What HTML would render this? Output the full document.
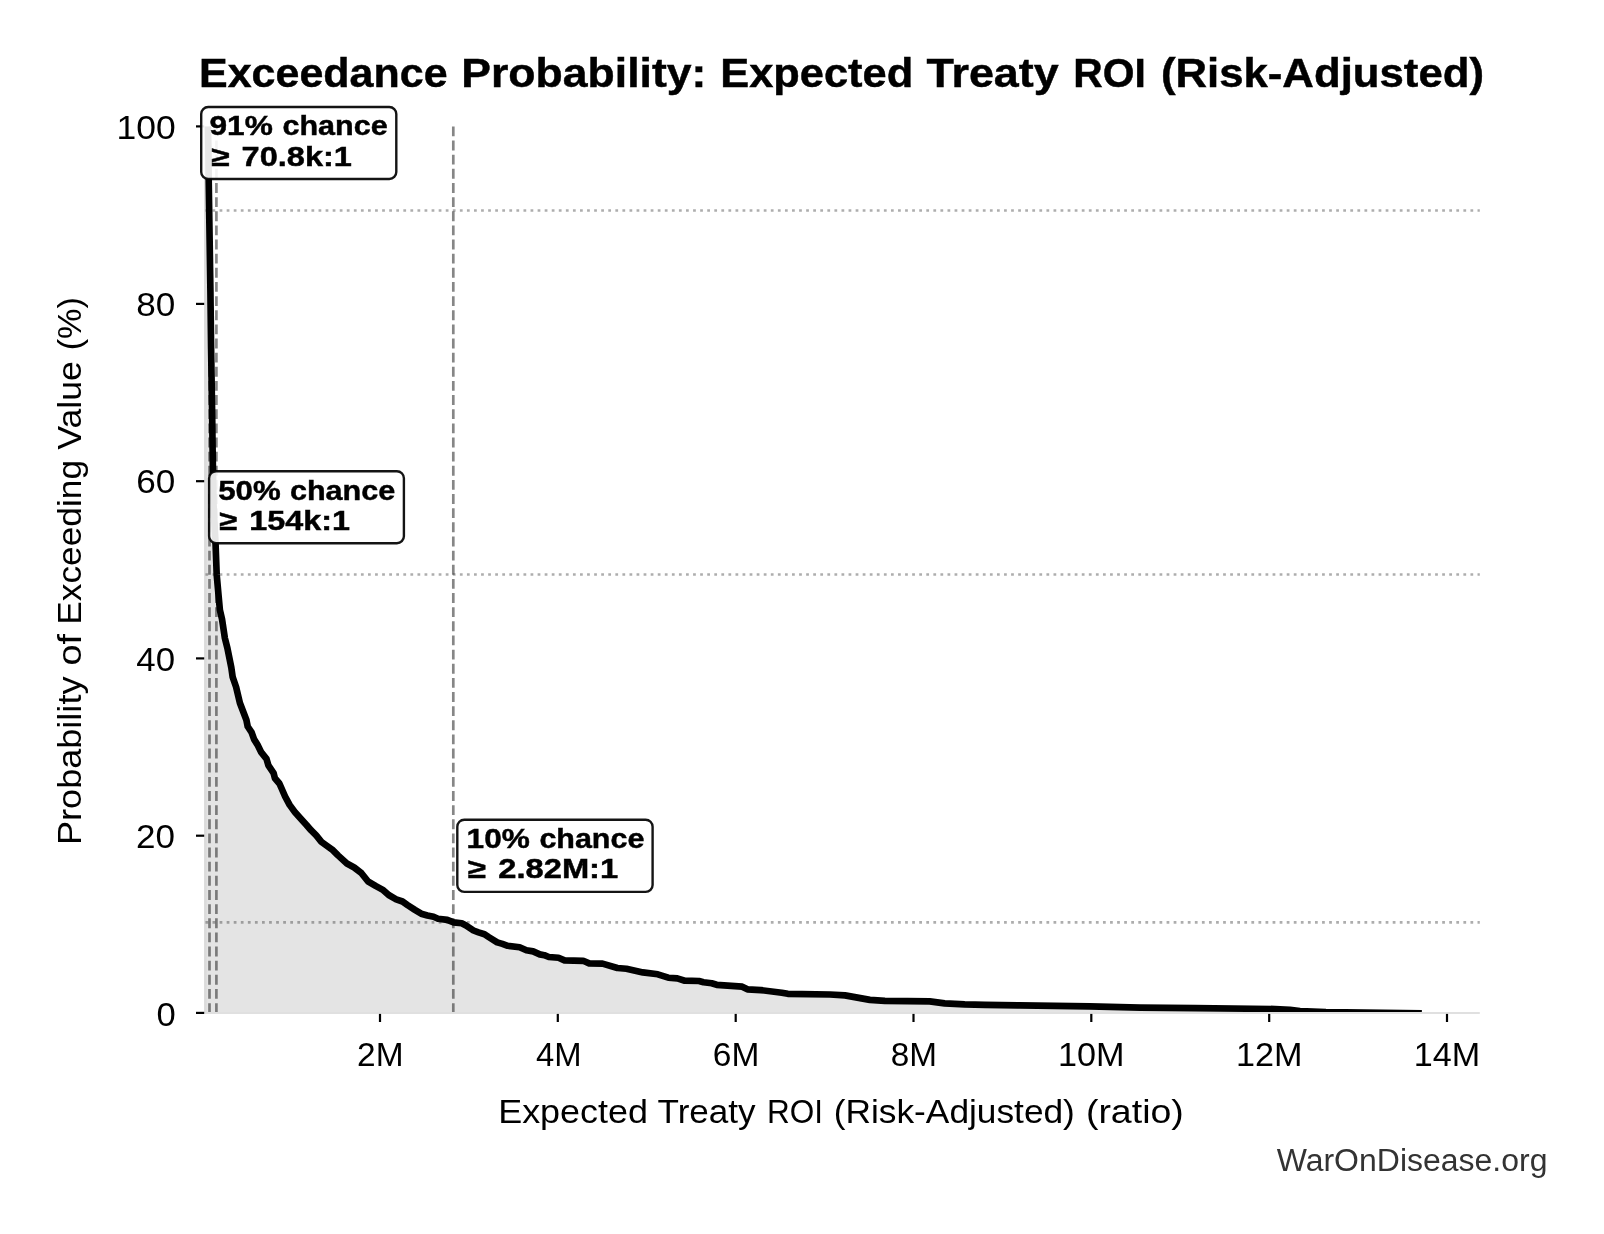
<!DOCTYPE html>
<html><head><meta charset="utf-8"><title>Exceedance Probability</title>
<style>
html,body{margin:0;padding:0;background:#fff;width:1604px;height:1234px;overflow:hidden}
svg{position:absolute;left:0;top:0;display:block;-webkit-font-smoothing:antialiased;will-change:transform}
text{font-family:"Liberation Sans",sans-serif}
</style></head><body>
<svg width="1604" height="1234" viewBox="0 0 1604 1234">
<defs><clipPath id="ax"><rect x="204.2" y="126.4" width="1275.6" height="886.6"/></clipPath></defs>
<rect x="0" y="0" width="1604" height="1234" fill="#fff"/>
<path d="M204.2 1013 L204.2 126.4 L207.9 124 L208.4 150 L208.7 180 L210.4 290 L211.1 348.4 L211.9 400 L212.1 410 L212.6 448.7 L212.9 468.2 L213.6 507 L215.6 544.9 L216.7 574.7 L218.5 594.8 L219.9 610 L222 618.9 L224.9 638.3 L227.4 648.1 L231.3 667.5 L232.7 677.2 L236.1 687 L239.9 703 L246.4 720 L247.7 726.5 L251.6 732.3 L254.1 739.4 L257.4 744.6 L261.3 752.4 L266.5 758.9 L268.4 765.4 L273.6 773.1 L274.9 778.3 L279.4 783.5 L281.4 788 L285.1 796.5 L289.6 804.9 L294.8 812 L300.6 818.5 L306.5 825 L311 830.2 L316.2 835.4 L321.4 841.8 L326.6 845.7 L333 850.3 L338 855.4 L346.9 863.5 L354.2 867.5 L361.5 873.2 L367.9 881.3 L376 886.2 L383.3 890.2 L388.7 895 L396.2 899.3 L402.5 901.5 L407.4 905 L414.9 909.9 L421.2 913.7 L427.4 915.5 L433.6 916.8 L438 918.7 L447.3 919.9 L453.6 922.4 L461.7 923.3 L466 925.5 L473.5 930.5 L478.5 932.4 L484.5 934.2 L489 937.2 L497.2 942.4 L502.4 943.9 L507.7 945.8 L519.6 947.3 L526.4 950.3 L533.1 951.4 L539.8 954.4 L544.3 955.2 L548.8 957 L558.5 957.8 L564.5 960.4 L583.2 960.8 L589.2 963.4 L602.5 963.6 L617.4 968 L626.4 968.7 L642.9 972.4 L657.8 974.3 L668.3 977.7 L677.3 978.4 L684.8 980.7 L699 981 L703.5 982.2 L711.7 983.3 L716.7 984.8 L742.2 986.7 L747.4 989.3 L760.9 990.1 L781.8 992.7 L787.8 993.8 L830 994.5 L845 995.4 L869.9 999.9 L884.9 1000.9 L929.7 1001.4 L944.7 1003.4 L964.7 1004.4 L985 1004.8 L1019.9 1005.4 L1089.7 1006.4 L1140 1007.7 L1195 1008.2 L1275 1009 L1290 1009.8 L1300 1011 L1326 1012 L1418.5 1013.2 L1418.5 1013 Z" fill="#e4e4e4" stroke="#dddddd" stroke-width="1" clip-path="url(#ax)"/>
<line x1="205.4" y1="126.4" x2="205.4" y2="1013" stroke="#dbdbdb" stroke-width="2.4"/>
<line x1="204.2" y1="210.5" x2="1479.8" y2="210.5" stroke="#333" stroke-opacity="0.4" stroke-width="2.67" stroke-dasharray="2.75 4.317" stroke-dashoffset="5.801"/>
<line x1="204.2" y1="574.5" x2="1479.8" y2="574.5" stroke="#333" stroke-opacity="0.4" stroke-width="2.67" stroke-dasharray="2.75 4.317" stroke-dashoffset="5.801"/>
<line x1="204.2" y1="922.4" x2="1479.8" y2="922.4" stroke="#333" stroke-opacity="0.4" stroke-width="2.67" stroke-dasharray="2.75 4.317" stroke-dashoffset="5.801"/>
<line x1="209.5" y1="1013" x2="209.5" y2="126.4" stroke="#222" stroke-opacity="0.55" stroke-width="2.67" stroke-dasharray="9.87 4.27"/>
<line x1="216.4" y1="1013" x2="216.4" y2="126.4" stroke="#222" stroke-opacity="0.55" stroke-width="2.67" stroke-dasharray="9.87 4.27"/>
<line x1="453.3" y1="1013" x2="453.3" y2="126.4" stroke="#222" stroke-opacity="0.55" stroke-width="2.67" stroke-dasharray="9.87 4.27"/>
<path d="M207.9 124 L208.4 150 L208.7 180 L210.4 290 L211.1 348.4 L211.9 400 L212.1 410 L212.6 448.7 L212.9 468.2 L213.6 507 L215.6 544.9 L216.7 574.7 L218.5 594.8 L219.9 610 L222 618.9 L224.9 638.3 L227.4 648.1 L231.3 667.5 L232.7 677.2 L236.1 687 L239.9 703 L246.4 720 L247.7 726.5 L251.6 732.3 L254.1 739.4 L257.4 744.6 L261.3 752.4 L266.5 758.9 L268.4 765.4 L273.6 773.1 L274.9 778.3 L279.4 783.5 L281.4 788 L285.1 796.5 L289.6 804.9 L294.8 812 L300.6 818.5 L306.5 825 L311 830.2 L316.2 835.4 L321.4 841.8 L326.6 845.7 L333 850.3 L338 855.4 L346.9 863.5 L354.2 867.5 L361.5 873.2 L367.9 881.3 L376 886.2 L383.3 890.2 L388.7 895 L396.2 899.3 L402.5 901.5 L407.4 905 L414.9 909.9 L421.2 913.7 L427.4 915.5 L433.6 916.8 L438 918.7 L447.3 919.9 L453.6 922.4 L461.7 923.3 L466 925.5 L473.5 930.5 L478.5 932.4 L484.5 934.2 L489 937.2 L497.2 942.4 L502.4 943.9 L507.7 945.8 L519.6 947.3 L526.4 950.3 L533.1 951.4 L539.8 954.4 L544.3 955.2 L548.8 957 L558.5 957.8 L564.5 960.4 L583.2 960.8 L589.2 963.4 L602.5 963.6 L617.4 968 L626.4 968.7 L642.9 972.4 L657.8 974.3 L668.3 977.7 L677.3 978.4 L684.8 980.7 L699 981 L703.5 982.2 L711.7 983.3 L716.7 984.8 L742.2 986.7 L747.4 989.3 L760.9 990.1 L781.8 992.7 L787.8 993.8 L830 994.5 L845 995.4 L869.9 999.9 L884.9 1000.9 L929.7 1001.4 L944.7 1003.4 L964.7 1004.4 L985 1004.8 L1019.9 1005.4 L1089.7 1006.4 L1140 1007.7 L1195 1008.2 L1275 1009 L1290 1009.8 L1300 1011 L1326 1012 L1418.5 1013.2" fill="none" stroke="#000" stroke-width="6.67" stroke-linejoin="round" stroke-linecap="square" clip-path="url(#ax)"/>
<line x1="204.2" y1="1013" x2="1479.8" y2="1013" stroke="#e0e0e0" stroke-width="2"/>
<line x1="196" y1="126.4" x2="204.2" y2="126.4" stroke="#000" stroke-width="2.2"/>
<line x1="196" y1="303.9" x2="204.2" y2="303.9" stroke="#000" stroke-width="2.2"/>
<line x1="196" y1="481.2" x2="204.2" y2="481.2" stroke="#000" stroke-width="2.2"/>
<line x1="196" y1="658.4" x2="204.2" y2="658.4" stroke="#000" stroke-width="2.2"/>
<line x1="196" y1="835.7" x2="204.2" y2="835.7" stroke="#000" stroke-width="2.2"/>
<line x1="196" y1="1012.9" x2="204.2" y2="1012.9" stroke="#000" stroke-width="2.2"/>
<line x1="380" y1="1013.9" x2="380" y2="1022" stroke="#000" stroke-width="2.2"/>
<line x1="557.8" y1="1013.9" x2="557.8" y2="1022" stroke="#000" stroke-width="2.2"/>
<line x1="735.7" y1="1013.9" x2="735.7" y2="1022" stroke="#000" stroke-width="2.2"/>
<line x1="913.5" y1="1013.9" x2="913.5" y2="1022" stroke="#000" stroke-width="2.2"/>
<line x1="1091.3" y1="1013.9" x2="1091.3" y2="1022" stroke="#000" stroke-width="2.2"/>
<line x1="1269.2" y1="1013.9" x2="1269.2" y2="1022" stroke="#000" stroke-width="2.2"/>
<line x1="1447" y1="1013.9" x2="1447" y2="1022" stroke="#000" stroke-width="2.2"/>
<rect x="201.2" y="107" width="195.1" height="72" rx="7" ry="7" fill="#fff" fill-opacity="0.9" stroke="#000" stroke-opacity="0.92" stroke-width="2.4"/>
<rect x="209.1" y="471.2" width="194.8" height="72" rx="7" ry="7" fill="#fff" fill-opacity="0.9" stroke="#000" stroke-opacity="0.92" stroke-width="2.4"/>
<rect x="457.3" y="819.7" width="195.3" height="72.2" rx="7" ry="7" fill="#fff" fill-opacity="0.9" stroke="#000" stroke-opacity="0.92" stroke-width="2.4"/>
<text x="116.5" y="138.9" font-size="32.5" textLength="59.21" lengthAdjust="spacingAndGlyphs">100</text>
<text x="136.3" y="316.4" font-size="32.5" textLength="39.10" lengthAdjust="spacingAndGlyphs">80</text>
<text x="136.2" y="493.1" font-size="32.5" textLength="39.07" lengthAdjust="spacingAndGlyphs">60</text>
<text x="136.3" y="670.9" font-size="32.5" textLength="38.73" lengthAdjust="spacingAndGlyphs">40</text>
<text x="136.1" y="848.2" font-size="32.5" textLength="38.98" lengthAdjust="spacingAndGlyphs">20</text>
<text x="156.6" y="1026.2" font-size="32.5" textLength="19.25" lengthAdjust="spacingAndGlyphs">0</text>
<text x="357.1" y="1066" font-size="32.5" textLength="46.45" lengthAdjust="spacingAndGlyphs">2M</text>
<text x="535.9" y="1066" font-size="32.5" textLength="45.56" lengthAdjust="spacingAndGlyphs">4M</text>
<text x="712.8" y="1066" font-size="32.5" textLength="46.52" lengthAdjust="spacingAndGlyphs">6M</text>
<text x="890.7" y="1066" font-size="32.5" textLength="46.28" lengthAdjust="spacingAndGlyphs">8M</text>
<text x="1057.9" y="1066" font-size="32.5" textLength="66.49" lengthAdjust="spacingAndGlyphs">10M</text>
<text x="1235.9" y="1066" font-size="32.5" textLength="66.49" lengthAdjust="spacingAndGlyphs">12M</text>
<text x="1413.7" y="1066" font-size="32.5" textLength="66.47" lengthAdjust="spacingAndGlyphs">14M</text>
<text x="209.5" y="135.4" font-size="27.5" font-weight="bold" stroke="#000" stroke-width="0.45" textLength="63.33" lengthAdjust="spacingAndGlyphs">91%</text>
<text x="282.5" y="135.4" font-size="27.5" font-weight="bold" stroke="#000" stroke-width="0.45" textLength="105.15" lengthAdjust="spacingAndGlyphs">chance</text>
<text x="211.1" y="165.9" font-size="27.5" font-weight="bold" stroke="#000" stroke-width="0.45" textLength="18.37" lengthAdjust="spacingAndGlyphs">≥</text>
<text x="241.6" y="165.9" font-size="27.5" font-weight="bold" stroke="#000" stroke-width="0.45" textLength="110.39" lengthAdjust="spacingAndGlyphs">70.8k:1</text>
<text x="218.2" y="499.7" font-size="27.5" font-weight="bold" stroke="#000" stroke-width="0.45" textLength="62.43" lengthAdjust="spacingAndGlyphs">50%</text>
<text x="289.9" y="499.7" font-size="27.5" font-weight="bold" stroke="#000" stroke-width="0.45" textLength="105.32" lengthAdjust="spacingAndGlyphs">chance</text>
<text x="219" y="529.8" font-size="27.5" font-weight="bold" stroke="#000" stroke-width="0.45" textLength="17.95" lengthAdjust="spacingAndGlyphs">≥</text>
<text x="249.2" y="529.8" font-size="27.5" font-weight="bold" stroke="#000" stroke-width="0.45" textLength="100.73" lengthAdjust="spacingAndGlyphs">154k:1</text>
<text x="466.6" y="847.9" font-size="27.5" font-weight="bold" stroke="#000" stroke-width="0.45" textLength="63.24" lengthAdjust="spacingAndGlyphs">10%</text>
<text x="539.4" y="847.9" font-size="27.5" font-weight="bold" stroke="#000" stroke-width="0.45" textLength="104.97" lengthAdjust="spacingAndGlyphs">chance</text>
<text x="467.6" y="878.1" font-size="27.5" font-weight="bold" stroke="#000" stroke-width="0.45" textLength="18.20" lengthAdjust="spacingAndGlyphs">≥</text>
<text x="498.3" y="878.1" font-size="27.5" font-weight="bold" stroke="#000" stroke-width="0.45" textLength="119.88" lengthAdjust="spacingAndGlyphs">2.82M:1</text>
<text x="199" y="87" font-size="40.3" font-weight="bold" stroke="#000" stroke-width="0.45" textLength="248.56" lengthAdjust="spacingAndGlyphs">Exceedance</text>
<text x="461.3" y="87" font-size="40.3" font-weight="bold" stroke="#000" stroke-width="0.45" textLength="245.14" lengthAdjust="spacingAndGlyphs">Probability:</text>
<text x="720.2" y="87" font-size="40.3" font-weight="bold" stroke="#000" stroke-width="0.45" textLength="193.06" lengthAdjust="spacingAndGlyphs">Expected</text>
<text x="926.5" y="87" font-size="40.3" font-weight="bold" stroke="#000" stroke-width="0.45" textLength="132.16" lengthAdjust="spacingAndGlyphs">Treaty</text>
<text x="1073.3" y="87" font-size="40.3" font-weight="bold" stroke="#000" stroke-width="0.45" textLength="72.55" lengthAdjust="spacingAndGlyphs">ROI</text>
<text x="1160.9" y="87" font-size="40.3" font-weight="bold" stroke="#000" stroke-width="0.45" textLength="323.10" lengthAdjust="spacingAndGlyphs">(Risk-Adjusted)</text>
<text x="498.2" y="1123.2" font-size="33.3" textLength="149.76" lengthAdjust="spacingAndGlyphs">Expected</text>
<text x="657.5" y="1123.2" font-size="33.3" textLength="98.13" lengthAdjust="spacingAndGlyphs">Treaty</text>
<text x="767.1" y="1123.2" font-size="33.3" textLength="56.03" lengthAdjust="spacingAndGlyphs">ROI</text>
<text x="833.8" y="1123.2" font-size="33.3" textLength="241.07" lengthAdjust="spacingAndGlyphs">(Risk-Adjusted)</text>
<text x="1085.9" y="1123.2" font-size="33.3" textLength="97.93" lengthAdjust="spacingAndGlyphs">(ratio)</text>
<text x="1276.7" y="1170.9" font-size="31" fill="#333333" textLength="270.77" lengthAdjust="spacingAndGlyphs">WarOnDisease.org</text>
<text x="0" y="0" font-size="33.3" textLength="168.45" lengthAdjust="spacingAndGlyphs" transform="translate(80.8 845.00) rotate(-90)">Probability</text>
<text x="0" y="0" font-size="33.3" textLength="31.61" lengthAdjust="spacingAndGlyphs" transform="translate(80.8 665.57) rotate(-90)">of</text>
<text x="0" y="0" font-size="33.3" textLength="164.97" lengthAdjust="spacingAndGlyphs" transform="translate(80.8 624.81) rotate(-90)">Exceeding</text>
<text x="0" y="0" font-size="33.3" textLength="88.61" lengthAdjust="spacingAndGlyphs" transform="translate(80.8 449.64) rotate(-90)">Value</text>
<text x="0" y="0" font-size="33.3" textLength="53.21" lengthAdjust="spacingAndGlyphs" transform="translate(80.8 350.36) rotate(-90)">(%)</text>
</svg>
</body></html>
